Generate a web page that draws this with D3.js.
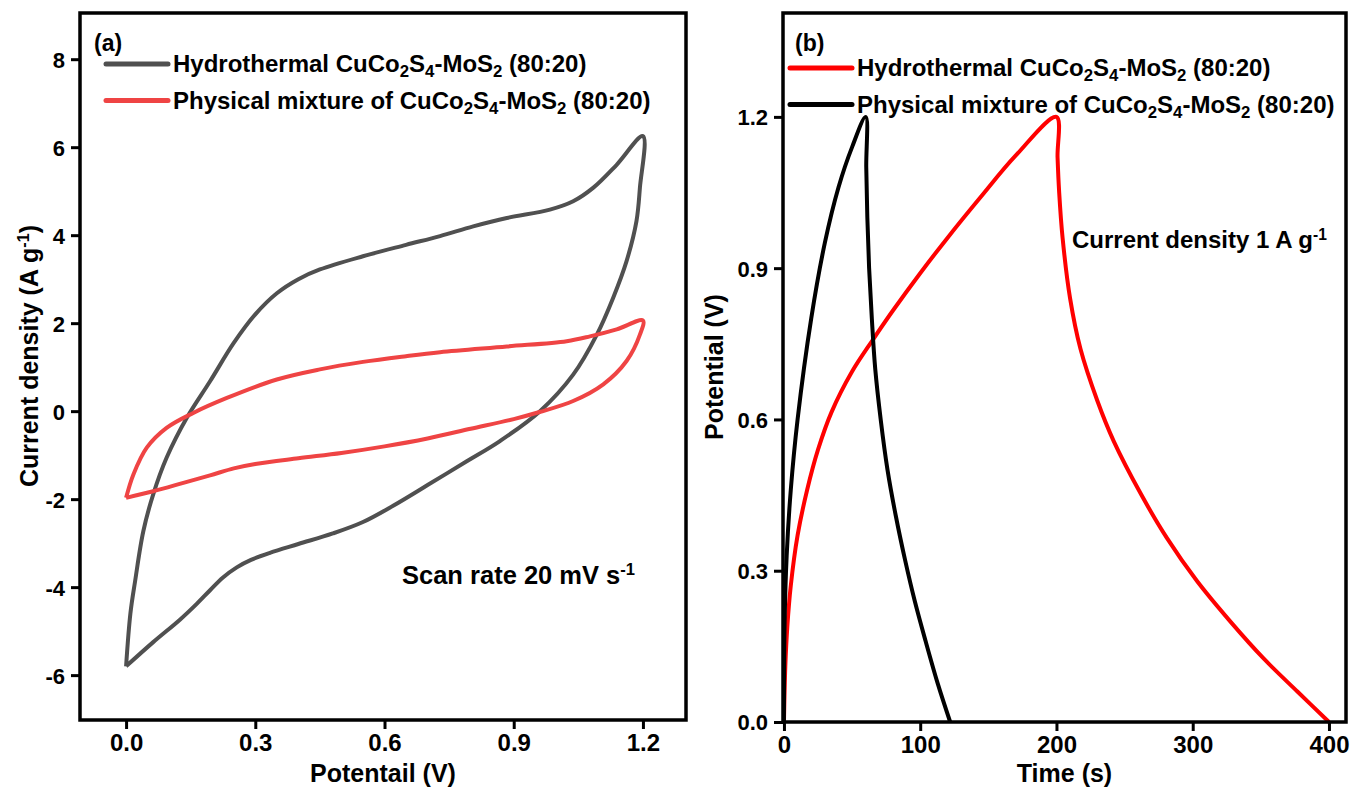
<!DOCTYPE html>
<html>
<head>
<meta charset="utf-8">
<script src="https://cdn.jsdelivr.net/npm/d3@7"></script>
<style>
  body { margin: 0; background: #fff; }
  svg text { font-family: "Liberation Sans", Arial, sans-serif; font-weight: bold; fill: #000; }
  svg text.narrow { font-family: "Liberation Sans Narrow", "Arial Narrow", "Liberation Sans", sans-serif; }
</style>
</head>
<body>
<svg id="chart" width="1351" height="788"></svg>
<script>
// ---- panel (a): cyclic voltammetry, 20 mV/s ----
const cvTicksX = [0, 0.3, 0.6, 0.9, 1.2];
const cvTicksY = [-6, -4, -2, 0, 2, 4, 6, 8];

// hydrothermal, forward scan (0 -> 1.2 V)
const hydroFwdV = [0, 0.01, 0.021, 0.04, 0.063, 0.094, 0.141, 0.195, 0.25, 0.3, 0.35, 0.4, 0.45, 0.55, 0.65, 0.729, 0.806, 0.884, 0.984, 1.038, 1.085, 1.139, 1.2];
const hydroFwdI = [-5.8, -4.6, -3.86, -2.73, -1.89, -1.06, -0.15, 0.68, 1.55, 2.2, 2.68, 3.0, 3.22, 3.52, 3.78, 3.98, 4.2, 4.39, 4.58, 4.77, 5.08, 5.6, 6.25];
// hydrothermal, reverse scan (1.2 -> 0 V)
const hydroRevV = [1.193, 1.185, 1.162, 1.131, 1.093, 1.038, 0.961, 0.868, 0.791, 0.7, 0.62, 0.55, 0.48, 0.4, 0.334, 0.29, 0.257, 0.225, 0.195, 0.164, 0.125, 0.063, 0];
const hydroRevI = [5.08, 4.32, 3.41, 2.58, 1.74, 0.83, 0, -0.68, -1.14, -1.68, -2.15, -2.52, -2.78, -3.02, -3.22, -3.38, -3.55, -3.78, -4.07, -4.38, -4.74, -5.25, -5.8];

// physical mixture
const mixFwdV = [0, 0.017, 0.048, 0.094, 0.156, 0.234, 0.35, 0.45, 0.55, 0.65, 0.729, 0.884, 1.023, 1.077, 1.139, 1.2];
const mixFwdI = [-1.97, -1.44, -0.83, -0.38, -0.04, 0.3, 0.72, 0.95, 1.12, 1.25, 1.34, 1.47, 1.59, 1.7, 1.86, 2.06];
const mixRevV = [1.193, 1.162, 1.108, 1.038, 0.96, 0.9, 0.8, 0.7, 0.6, 0.5, 0.4, 0.3, 0.25, 0.195, 0.133, 0.063, 0];
const mixRevI = [1.74, 1.14, 0.61, 0.23, -0.02, -0.18, -0.4, -0.62, -0.8, -0.95, -1.07, -1.2, -1.3, -1.46, -1.63, -1.82, -1.97];

// ---- panel (b): galvanostatic charge/discharge, 1 A/g ----
const gcdTicksX = [0, 100, 200, 300, 400];
const gcdTicksY = [0, 0.3, 0.6, 0.9, 1.2];

const hydroTime = [0, 1, 2.5, 5, 10, 17, 25, 35, 50, 65, 80, 100, 120, 145, 170, 200,
                   200.8, 202, 204.5, 210, 217.6, 230, 242, 262, 281, 303, 328, 352, 377, 400];
const hydroPot  = [0, 0.11, 0.19, 0.27, 0.37, 0.46, 0.54, 0.615, 0.695, 0.757, 0.816, 0.89, 0.96, 1.043, 1.123, 1.2,
                   1.12, 1.05, 0.96, 0.84, 0.74, 0.637, 0.557, 0.452, 0.365, 0.28, 0.198, 0.126, 0.06, 0];

const mixTime = [0, 0.5, 2, 5, 10, 20, 30, 40, 50, 60,
                 60.4, 61.2, 62.5, 64.5, 67, 71, 76, 82, 89, 96, 104, 113, 122];
const mixPot  = [0, 0.2, 0.33, 0.46, 0.6, 0.8, 0.95, 1.06, 1.14, 1.2,
                 1.1, 1.0, 0.9, 0.8, 0.7, 0.6, 0.5, 0.41, 0.32, 0.24, 0.16, 0.075, 0];

const svg = d3.select("#chart");

function zip(xs, ys) {
    return xs.map((x, i) => ({x: x, y: ys[i]}));
}

// writes the sample name with sub/superscripts
function sampleLabel(sel, prefix) {
    sel.append("tspan").text(prefix + "CuCo");
    sel.append("tspan").text("2").attr("baseline-shift", "-30%").attr("font-size", "70%");
    sel.append("tspan").text("S");
    sel.append("tspan").text("4").attr("baseline-shift", "-30%").attr("font-size", "70%");
    sel.append("tspan").text("-MoS");
    sel.append("tspan").text("2").attr("baseline-shift", "-30%").attr("font-size", "70%");
    sel.append("tspan").text(" (80:20)");
}

function superscript(sel, base) {
    sel.append("tspan").text(base);
    sel.append("tspan").text("-1").attr("baseline-shift", "super").attr("font-size", "65%");
}

function drawPanel(opt) {
    let g = svg.append("g");
    let x = d3.scaleLinear().domain(opt.xDomain).range([opt.left, opt.right]);
    let y = d3.scaleLinear().domain(opt.yDomain).range([opt.bottom, opt.top]);

    let xAxis = g.append("g")
        .attr("transform", "translate(0," + opt.bottom + ")")
        .call(d3.axisBottom(x).tickValues(opt.xTicks).tickFormat(opt.xFormat).tickSize(9).tickPadding(5));
    let yAxis = g.append("g")
        .attr("transform", "translate(" + opt.left + ",0)")
        .call(d3.axisLeft(y).tickValues(opt.yTicks).tickFormat(opt.yFormat).tickSize(9).tickPadding(6));

    [xAxis, yAxis].forEach(ax => {
        ax.select(".domain").remove();
        ax.selectAll(".tick line").attr("stroke", "#000").attr("stroke-width", 3);
    });
    xAxis.selectAll(".tick text").attr("class", "narrow").attr("font-size", 24);
    yAxis.selectAll(".tick text").attr("font-size", 22).attr("dy", "0.36em");

    let line = d3.line()
        .x(d => x(d.x))
        .y(d => y(d.y))
        .curve(d3.curveCatmullRom.alpha(0.5));

    opt.series.forEach(s => {
        g.append("path")
            .datum(s.points)
            .attr("d", line)
            .attr("fill", "none")
            .attr("stroke", s.color)
            .attr("stroke-width", 4)
            .attr("stroke-linejoin", "round");
    });

    // frame
    g.append("rect")
        .attr("x", opt.left).attr("y", opt.top)
        .attr("width", opt.right - opt.left).attr("height", opt.bottom - opt.top)
        .attr("fill", "none").attr("stroke", "#000").attr("stroke-width", 3.5);

    // legend
    opt.series.forEach((s, i) => {
        let ly = opt.legendY + i * 36.5;
        g.append("line")
            .attr("x1", opt.legendX).attr("x2", opt.legendX + 62)
            .attr("y1", ly).attr("y2", ly)
            .attr("stroke", s.color).attr("stroke-width", 5).attr("stroke-linecap", "round");
        let t = g.append("text")
            .attr("class", "narrow")
            .attr("x", opt.legendX + 67).attr("y", ly + 8)
            .attr("font-size", 24);
        sampleLabel(t, s.name);
    });

    g.append("text")
        .attr("x", opt.tagX).attr("y", opt.top + 38)
        .attr("font-size", 23)
        .text(opt.tag);

    // axis titles
    g.append("text")
        .attr("class", "narrow")
        .attr("x", (opt.left + opt.right) / 2).attr("y", 782)
        .attr("text-anchor", "middle").attr("font-size", 25)
        .text(opt.xTitle);
    let yt = g.append("text")
        .attr("class", "narrow")
        .attr("transform", "translate(" + opt.yTitleX + "," + opt.yTitleY + ") rotate(-90)")
        .attr("text-anchor", "middle").attr("font-size", 25);
    opt.yTitle(yt);

    return {x: x, y: y, g: g};
}

let a = drawPanel({
    left: 80, right: 686, top: 13, bottom: 720,
    xDomain: [-0.107, 1.3], yDomain: [-7.02, 9.05],
    xTicks: cvTicksX, yTicks: cvTicksY,
    xFormat: d3.format(".1f"), yFormat: d => String(d),
    tag: "(a)", tagX: 94, legendX: 106, legendY: 64,
    xTitle: "Potentail (V)", yTitleX: 38, yTitleY: 356,
    yTitle: t => { superscript(t, "Current density (A g"); t.append("tspan").text(")"); },
    series: [
        {name: "Hydrothermal ", color: "#505050",
         points: zip(hydroFwdV, hydroFwdI).concat(zip(hydroRevV, hydroRevI))},
        {name: "Physical mixture of ", color: "#ef4444",
         points: zip(mixFwdV, mixFwdI).concat(zip(mixRevV, mixRevI))}
    ]
});

let note1 = a.g.append("text").attr("x", 402).attr("y", 584).attr("font-size", 25.5);
superscript(note1, "Scan rate 20 mV s");

let b = drawPanel({
    left: 783, right: 1346, top: 13, bottom: 722,
    xDomain: [-0.7, 412.5], yDomain: [0, 1.406],
    xTicks: gcdTicksX, yTicks: gcdTicksY,
    xFormat: d3.format("d"), yFormat: d3.format(".1f"),
    tag: "(b)", tagX: 795, legendX: 790, legendY: 68,
    xTitle: "Time (s)", yTitleX: 723, yTitleY: 367,
    yTitle: t => t.text("Potential (V)"),
    series: [
        {name: "Hydrothermal ", color: "#ff0000", points: zip(hydroTime, hydroPot)},
        {name: "Physical mixture of ", color: "#000000", points: zip(mixTime, mixPot)}
    ]
});

let note2 = b.g.append("text").attr("x", 1072).attr("y", 248).attr("font-size", 24);
superscript(note2, "Current density 1 A g");
</script>
</body>
</html>
